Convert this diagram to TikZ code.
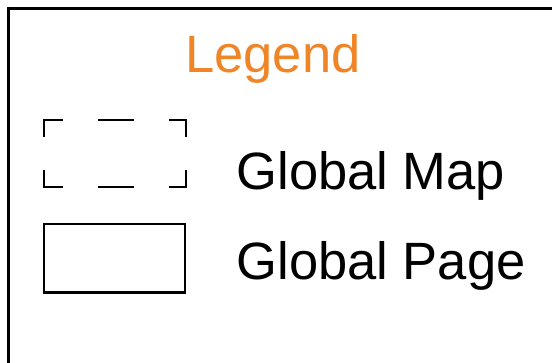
\documentclass[tikz,border=0pt]{standalone}
\usepackage{fontspec}
\setmainfont{Liberation Sans}
\usepackage{tikz}
\usetikzlibrary{positioning}
\definecolor{legendorange}{RGB}{239,133,38}
\tikzset{
  bigtext/.style={font=\fontsize{52.5}{60}\selectfont, inner sep=0pt},
  hdash/.style={line width=2.3pt, line cap=rect, dash pattern=on 17.8pt off 37.3pt on 33.7pt off 37.3pt on 17.8pt},
  vdash/.style={line width=2.3pt, line cap=rect, dash pattern=on 15.8pt off 35.3pt on 15.8pt}
}

\begin{document}
\begin{tikzpicture}[x=1pt,y=-1pt]
          \useasboundingbox (0,0) rectangle (552,363);
          % frame
          \coordinate (framebl) at (8.5,363);
          \coordinate (frametl) at (8.5,8.5);
          \coordinate (frametr) at (552,8.5);
          \draw[line width=2.5pt] (framebl) -- (frametl) -- (frametr);
          % title
          \node[bigtext, text=legendorange, anchor=base] (title) at (273,73) {Legend};
          % global map box
          \node[minimum width=141.6pt, minimum height=66.6pt, inner sep=0pt] (mapbox) at (114.7,153.5) {};
          \draw[hdash] (mapbox.north west) -- (mapbox.north east);
          \draw[hdash] (mapbox.south west) -- (mapbox.south east);
          \draw[vdash] (mapbox.north west) -- (mapbox.south west);
          \draw[vdash] (mapbox.north east) -- (mapbox.south east);
          \node[bigtext, anchor=base west] (maplabel) at (236.5,190) {Global Map};
          % global page box
          \node[draw, line width=2.5pt, minimum width=141pt, minimum height=68.5pt, inner sep=0pt] (pagebox) at (114.4,258.4) {};
          \node[bigtext, anchor=base west] (pagelabel) at (236.5,280) {Global Page};
        \end{tikzpicture}
\end{document}
